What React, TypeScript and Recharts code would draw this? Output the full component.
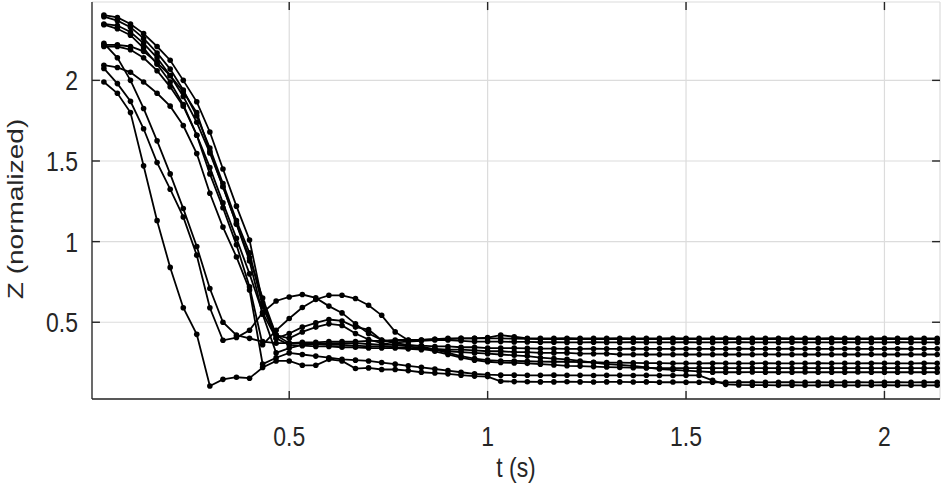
import React from 'react';
import { LineChart, Line, XAxis, YAxis, CartesianGrid, ReferenceLine } from 'recharts';

const time = [
  0.033, 0.067, 0.1, 0.133, 0.167, 0.2, 0.233, 0.267, 0.3, 0.333,
  0.367, 0.4, 0.433, 0.467, 0.5, 0.533, 0.567, 0.6, 0.633, 0.667,
  0.7, 0.733, 0.767, 0.8, 0.833, 0.867, 0.9, 0.933, 0.967, 1.0,
  1.033, 1.067, 1.1, 1.133, 1.167, 1.2, 1.233, 1.267, 1.3, 1.333,
  1.367, 1.4, 1.433, 1.467, 1.5, 1.533, 1.567, 1.6, 1.633, 1.667,
  1.7, 1.733, 1.767, 1.8, 1.833, 1.867, 1.9, 1.933, 1.967, 2.0,
  2.033, 2.067, 2.1, 2.133,
];

const s1 = [
  1.99, 1.92, 1.80, 1.47, 1.13, 0.84, 0.59, 0.425, 0.105, 0.146,
  0.159, 0.153, 0.219, 0.26, 0.26, 0.233, 0.233, 0.27, 0.26, 0.213,
  0.217, 0.207, 0.207, 0.2, 0.19, 0.185, 0.18, 0.172, 0.166, 0.163,
  0.134, 0.132, 0.131, 0.13, 0.13, 0.131, 0.13, 0.129, 0.13, 0.13,
  0.129, 0.13, 0.128, 0.129, 0.128, 0.128, 0.128, 0.127, 0.128, 0.128,
  0.127, 0.128, 0.128, 0.127, 0.128, 0.127, 0.128, 0.128, 0.127, 0.128,
  0.128, 0.127, 0.128, 0.128,
];

const s2 = [
  2.23, 2.14, 2.0, 1.826, 1.625, 1.42, 1.205, 0.97, 0.709, 0.50,
  0.42, 0.40, 0.38, 0.37, 0.37, 0.37, 0.365, 0.36, 0.36, 0.355,
  0.35, 0.35, 0.345, 0.34, 0.34, 0.335, 0.33, 0.33, 0.325, 0.32,
  0.32, 0.315, 0.315, 0.31, 0.31, 0.31, 0.305, 0.305, 0.305, 0.30,
  0.30, 0.301, 0.30, 0.30, 0.301, 0.30, 0.30, 0.301, 0.30, 0.30,
  0.301, 0.30, 0.30, 0.30, 0.301, 0.30, 0.30, 0.30, 0.301, 0.30,
  0.30, 0.30, 0.301, 0.30,
];

const s3 = [
  2.074, 1.98, 1.87, 1.70, 1.49, 1.325, 1.153, 0.916, 0.59, 0.388,
  0.405, 0.45, 0.56, 0.632, 0.657, 0.672, 0.651, 0.60, 0.558, 0.49,
  0.43, 0.39, 0.375, 0.38, 0.385, 0.39, 0.39, 0.385, 0.38, 0.38,
  0.38, 0.378, 0.378, 0.376, 0.376, 0.375, 0.375, 0.376, 0.375, 0.375,
  0.376, 0.375, 0.375, 0.375, 0.376, 0.375, 0.375, 0.375, 0.376, 0.375,
  0.375, 0.375, 0.376, 0.375, 0.375, 0.375, 0.376, 0.375, 0.375, 0.375,
  0.376, 0.375, 0.375, 0.375,
];

const s4 = [
  2.405, 2.39, 2.35, 2.29, 2.21, 2.125, 2.00, 1.867, 1.68, 1.45,
  1.22, 1.01, 0.62, 0.42, 0.37, 0.375, 0.375, 0.38, 0.38, 0.38,
  0.385, 0.385, 0.39, 0.39, 0.39, 0.395, 0.395, 0.40, 0.40, 0.40,
  0.40, 0.398, 0.397, 0.396, 0.395, 0.395, 0.396, 0.395, 0.395, 0.395,
  0.396, 0.395, 0.395, 0.395, 0.396, 0.395, 0.395, 0.395, 0.396, 0.395,
  0.395, 0.395, 0.396, 0.395, 0.395, 0.395, 0.396, 0.395, 0.395, 0.395,
  0.396, 0.395, 0.395, 0.395,
];

const s5 = [
  2.395, 2.37, 2.33, 2.26, 2.17, 2.07, 1.94, 1.78, 1.58, 1.36,
  1.13, 0.93, 0.60, 0.40, 0.36, 0.355, 0.35, 0.35, 0.345, 0.345,
  0.34, 0.34, 0.34, 0.335, 0.33, 0.33, 0.32, 0.315, 0.31, 0.305,
  0.30, 0.295, 0.29, 0.28, 0.275, 0.27, 0.26, 0.25, 0.24, 0.235,
  0.23, 0.22, 0.21, 0.205, 0.2, 0.195, 0.19, 0.19, 0.19, 0.191,
  0.19, 0.19, 0.19, 0.191, 0.19, 0.19, 0.19, 0.191, 0.19, 0.19,
  0.19, 0.191, 0.19, 0.19,
];

const s6 = [
  2.35, 2.34, 2.30, 2.23, 2.14, 2.03, 1.90, 1.74, 1.55, 1.34,
  1.11, 0.90, 0.65, 0.42, 0.40, 0.44, 0.47, 0.49, 0.48, 0.43,
  0.393, 0.37, 0.36, 0.35, 0.34, 0.32, 0.30, 0.28, 0.265, 0.255,
  0.25, 0.248, 0.245, 0.24, 0.235, 0.23, 0.228, 0.225, 0.222, 0.22,
  0.218, 0.217, 0.216, 0.215, 0.215, 0.216, 0.215, 0.215, 0.215, 0.216,
  0.215, 0.215, 0.215, 0.216, 0.215, 0.215, 0.215, 0.216, 0.215, 0.215,
  0.216, 0.215, 0.215, 0.215,
];

const s7 = [
  2.345, 2.32, 2.28, 2.20, 2.10, 1.99, 1.85, 1.66, 1.46, 1.24,
  1.02, 0.80, 0.56, 0.40, 0.43, 0.47, 0.496, 0.517, 0.508, 0.47,
  0.455, 0.388, 0.37, 0.36, 0.35, 0.33, 0.31, 0.29, 0.275, 0.265,
  0.26, 0.26, 0.258, 0.256, 0.255, 0.255, 0.253, 0.252, 0.25, 0.25,
  0.248, 0.247, 0.246, 0.245, 0.245, 0.245, 0.246, 0.245, 0.245, 0.245,
  0.246, 0.245, 0.245, 0.245, 0.246, 0.245, 0.245, 0.245, 0.246, 0.245,
  0.245, 0.245, 0.246, 0.245,
];

const s8 = [
  2.22, 2.22, 2.21, 2.18, 2.11, 2.03, 1.93, 1.80, 1.56, 1.34,
  1.11, 0.88, 0.55, 0.31, 0.34, 0.36, 0.365, 0.37, 0.37, 0.37,
  0.365, 0.36, 0.36, 0.355, 0.355, 0.35, 0.35, 0.345, 0.345, 0.34,
  0.34, 0.34, 0.338, 0.337, 0.336, 0.335, 0.335, 0.336, 0.335, 0.335,
  0.336, 0.335, 0.335, 0.335, 0.336, 0.335, 0.335, 0.335, 0.336, 0.335,
  0.335, 0.335, 0.336, 0.335, 0.335, 0.335, 0.336, 0.335, 0.335, 0.335,
  0.336, 0.335, 0.335, 0.335,
];

const s9 = [
  2.21, 2.21, 2.19, 2.14, 2.06, 1.96, 1.84, 1.66, 1.42, 1.21,
  0.98, 0.72, 0.36, 0.45, 0.523, 0.591, 0.641, 0.667, 0.667, 0.647,
  0.605, 0.543, 0.44, 0.388, 0.39, 0.395, 0.40, 0.40, 0.40, 0.405,
  0.42, 0.41, 0.40, 0.40, 0.40, 0.401, 0.40, 0.40, 0.40, 0.401,
  0.40, 0.40, 0.40, 0.401, 0.40, 0.40, 0.40, 0.401, 0.40, 0.40,
  0.40, 0.401, 0.40, 0.40, 0.40, 0.401, 0.40, 0.40, 0.40, 0.401,
  0.40, 0.40, 0.40, 0.40,
];

const s10 = [
  2.094, 2.08, 2.05, 1.99, 1.92, 1.84, 1.72, 1.546, 1.30, 1.09,
  0.905, 0.70, 0.24, 0.28, 0.31, 0.30, 0.29, 0.28, 0.27, 0.265,
  0.26, 0.25, 0.24, 0.23, 0.22, 0.21, 0.2, 0.19, 0.18, 0.175,
  0.172, 0.172, 0.171, 0.171, 0.172, 0.171, 0.171, 0.17, 0.171, 0.171,
  0.17, 0.171, 0.17, 0.17, 0.171, 0.17, 0.14, 0.115, 0.111, 0.11,
  0.11, 0.109, 0.11, 0.109, 0.109, 0.11, 0.109, 0.109, 0.109, 0.11,
  0.109, 0.109, 0.109, 0.109,
];

const seriesList = [s1, s2, s3, s4, s5, s6, s7, s8, s9, s10];
const seriesKeys = ['s1', 's2', 's3', 's4', 's5', 's6', 's7', 's8', 's9', 's10'];

const xTicks = [0.5, 1, 1.5, 2];
const yTicks = [0.5, 1, 1.5, 2];
const xTickLabels = ['0.5', '1', '1.5', '2'];
const yTickLabels = ['0.5', '1', '1.5', '2'];
const xLabel = 't (s)';
const yLabel = 'Z (normalized)';

const data = time.map((t, i) => {
  const row: Record<string, number> = { t };
  seriesList.forEach((s, j) => {
    row[seriesKeys[j]] = s[i];
  });
  return row;
});

const FONT = '"Liberation Sans", Arial, Helvetica, sans-serif';
const FS = 28;
const SX = 0.82;
const TXT = '#262626';
const AXIS = '#262626';
const X_DOMAIN: [number, number] = [0.003, 2.14];
const Y_DOMAIN: [number, number] = [0.024, 2.486];
// inward tick mark length expressed in axis units (about 8 px)
const X_TICK_UNITS = 0.02;
const Y_TICK_UNITS = 0.05;

const XTick = (props: any) => {
  const { x, y, payload } = props;
  const idx = xTicks.indexOf(payload.value);
  const label = idx >= 0 ? xTickLabels[idx] : String(payload.value);
  return (
    <g transform={`translate(${x},${y + 47}) scale(${SX},1)`}>
      <text x={0} y={0} textAnchor="middle" fontFamily={FONT} fontSize={FS} fill={TXT}>
        {label}
      </text>
    </g>
  );
};

const YTick = (props: any) => {
  const { x, y, payload } = props;
  const idx = yTicks.indexOf(payload.value);
  const label = idx >= 0 ? yTickLabels[idx] : String(payload.value);
  return (
    <g transform={`translate(${x - 14},${y}) scale(${SX},1)`}>
      <text x={0} y={0} dy="0.36em" textAnchor="end" fontFamily={FONT} fontSize={FS} fill={TXT}>
        {label}
      </text>
    </g>
  );
};

const XLabel = (props: any) => {
  const vb = props.viewBox || {};
  const cx = (vb.x || 0) + (vb.width || 0) / 2;
  return (
    <g transform={`translate(${cx},477) scale(${SX},1)`}>
      <text x={0} y={0} textAnchor="middle" fontFamily={FONT} fontSize={FS} fill={TXT}>
        {xLabel}
      </text>
    </g>
  );
};

const YLabel = () => {
  return (
    <g transform={`translate(15,209) scale(${SX},1) rotate(-90)`}>
      <text x={0} y={0} dy="0.36em" textAnchor="middle" fontFamily={FONT} fontSize={FS} fill={TXT}>
        {yLabel}
      </text>
    </g>
  );
};

export default function App() {
  return (
    <div style={{ position: 'absolute', left: 0, top: 0, width: 952, height: 483, background: '#fff' }}>
      <LineChart
        width={952}
        height={483}
        data={data}
        margin={{ top: 2, right: 12, bottom: 0, left: 0 }}
      >
        <CartesianGrid stroke="#dcdcdc" strokeWidth={1.2} />
        <XAxis
          dataKey="t"
          type="number"
          domain={X_DOMAIN}
          allowDataOverflow
          ticks={xTicks}
          height={84}
          tickSize={0}
          tickMargin={0}
          tick={<XTick />}
          tickLine={false}
          axisLine={{ stroke: AXIS, strokeWidth: 1.3 }}
          label={{ value: xLabel, content: <XLabel /> }}
        />
        <XAxis
          xAxisId="top"
          orientation="top"
          dataKey="t"
          type="number"
          domain={X_DOMAIN}
          allowDataOverflow
          ticks={xTicks}
          height={0}
          tick={false}
          tickLine={false}
          axisLine={{ stroke: AXIS, strokeWidth: 1.3 }}
        />
        <YAxis
          type="number"
          domain={Y_DOMAIN}
          allowDataOverflow
          ticks={yTicks}
          width={92}
          tickSize={0}
          tickMargin={0}
          tick={<YTick />}
          tickLine={false}
          axisLine={{ stroke: AXIS, strokeWidth: 1.3 }}
          label={{ value: yLabel, content: <YLabel /> }}
        />
        <YAxis
          yAxisId="right"
          orientation="right"
          type="number"
          domain={Y_DOMAIN}
          allowDataOverflow
          ticks={yTicks}
          width={0}
          tick={false}
          tickLine={false}
          axisLine={{ stroke: AXIS, strokeWidth: 1.3 }}
        />
        {xTicks.map((v) => (
          <ReferenceLine
            key={`xb${v}`}
            segment={[{ x: v, y: Y_DOMAIN[0] }, { x: v, y: Y_DOMAIN[0] + Y_TICK_UNITS }]}
            stroke={AXIS}
            strokeWidth={1.4}
            ifOverflow="visible"
          />
        ))}
        {xTicks.map((v) => (
          <ReferenceLine
            key={`xt${v}`}
            segment={[{ x: v, y: Y_DOMAIN[1] }, { x: v, y: Y_DOMAIN[1] - Y_TICK_UNITS }]}
            stroke={AXIS}
            strokeWidth={1.4}
            ifOverflow="visible"
          />
        ))}
        {yTicks.map((v) => (
          <ReferenceLine
            key={`yl${v}`}
            segment={[{ x: X_DOMAIN[0], y: v }, { x: X_DOMAIN[0] + X_TICK_UNITS, y: v }]}
            stroke={AXIS}
            strokeWidth={1.4}
            ifOverflow="visible"
          />
        ))}
        {yTicks.map((v) => (
          <ReferenceLine
            key={`yr${v}`}
            segment={[{ x: X_DOMAIN[1], y: v }, { x: X_DOMAIN[1] - X_TICK_UNITS, y: v }]}
            stroke={AXIS}
            strokeWidth={1.4}
            ifOverflow="visible"
          />
        ))}
        {seriesKeys.map((k) => (
          <Line
            key={k}
            dataKey={k}
            type="linear"
            stroke="#000"
            strokeWidth={1.8}
            dot={{ r: 2.8, fill: '#000', stroke: '#000', strokeWidth: 0 }}
            activeDot={false}
            isAnimationActive={false}
          />
        ))}
      </LineChart>
    </div>
  );
}
